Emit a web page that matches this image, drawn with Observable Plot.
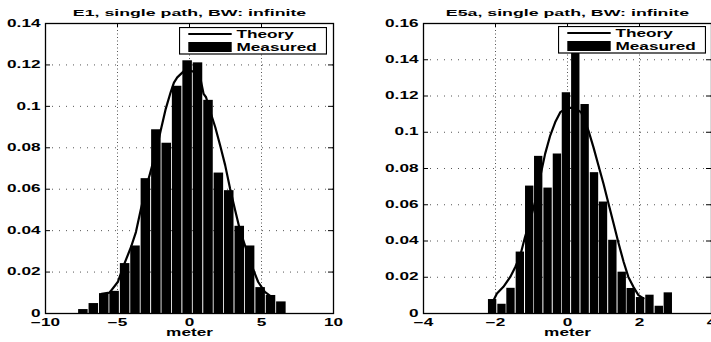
<!DOCTYPE html>
<html>
<head>
<meta charset="utf-8">
<script src="https://cdn.jsdelivr.net/npm/d3@7"></script>
<script src="https://cdn.jsdelivr.net/npm/@observablehq/plot@0.6"></script>
<style>
  html, body { margin: 0; padding: 0; background: #fff; overflow: hidden; }
  #wrap { position: relative; width: 711px; height: 342px; overflow: hidden; background: #fff; }
  .pane { position: absolute; top: 0; width: 355px; height: 342px; }
  .pane svg { max-width: none !important; }
  .leg { position: absolute; font-family: "Liberation Sans", Arial, sans-serif; font-weight: bold; font-size: 10px; }
</style>
</head>
<body>
<div id="wrap">
  <div id="left" class="pane" style="left:0px"></div>
  <div id="right" class="pane" style="left:378.3px"></div>
</div>
<script>
// ---------- Left panel: E1 ----------
const leftTitle = "E1, single path, BW: infinite";
const leftXTicks = [-10, -5, 0, 5, 10];
const leftYTicks = [0, 0.02, 0.04, 0.06, 0.08, 0.1, 0.12, 0.14];
const leftBinWidth = 0.7235;
const leftCenters = [-7.37, -6.645, -5.92, -5.20, -4.47, -3.75, -3.03, -2.30, -1.58, -0.86,
                     -0.13, 0.59, 1.32, 2.04, 2.76, 3.49, 4.21, 4.94, 5.66, 6.38];
const leftMeasured = [0.0019, 0.0048, 0.0096, 0.0107, 0.0241, 0.0326, 0.0651, 0.0887, 0.0822, 0.1097,
                      0.1220, 0.1210, 0.1029, 0.0678, 0.0593, 0.0421, 0.0326, 0.0125, 0.0087, 0.0056];
const leftTheoryX = [-6.1, -5.55, -4.98, -4.52, -4.06, -3.72, -3.37, -3.03, -2.68, -2.34, -2.0, -1.65,
                     -1.31, -1.08, -0.85, -0.39, 0.0, 0.18, 0.45, 0.76, 0.98, 1.15, 1.45, 1.79, 2.13,
                     2.48, 2.82, 3.17, 3.51, 3.85, 4.31, 4.77, 5.23, 5.6];
const leftTheoryY = [0.0095, 0.0101, 0.0152, 0.0241, 0.0321, 0.0393, 0.0506, 0.0602, 0.0691, 0.0779, 0.0883, 0.0988,
                     0.1068, 0.1115, 0.1140, 0.1170, 0.1176, 0.1170, 0.1160, 0.1133, 0.1060, 0.1044, 0.0972, 0.0899, 0.0811,
                     0.0715, 0.0602, 0.0498, 0.0401, 0.0329, 0.0233, 0.0152, 0.0104, 0.0085];

// ---------- Right panel: E5a ----------
const rightTitle = "E5a, single path, BW: infinite";
const rightXTicks = [-4, -2, 0, 2, 4];
const rightYTicks = [0, 0.02, 0.04, 0.06, 0.08, 0.1, 0.12, 0.14, 0.16];
const rightBinWidth = 0.257;
const rightCenters = [-2.08, -1.82, -1.57, -1.31, -1.05, -0.80, -0.54, -0.28, -0.03, 0.23,
                      0.49, 0.75, 1.00, 1.26, 1.52, 1.77, 2.03, 2.29, 2.55, 2.80];
const rightMeasured = [0.0077, 0.0051, 0.0139, 0.0339, 0.0703, 0.0867, 0.0692, 0.0880, 0.1218, 0.1500,
                       0.1153, 0.0777, 0.0615, 0.0404, 0.0228, 0.0138, 0.0088, 0.0101, 0.0040, 0.0114];
const rightTheoryX = [-2.05, -1.96, -1.78, -1.59, -1.45, -1.31, -1.18, -1.04, -0.90, -0.76, -0.62, -0.48,
                      -0.34, -0.20, 0.0, 0.2, 0.38, 0.58, 0.72, 0.86, 1.0, 1.14, 1.28, 1.42, 1.56, 1.69,
                      1.83, 1.97, 2.11];
const rightTheoryY = [0.0075, 0.0110, 0.0147, 0.0202, 0.0257, 0.0321, 0.0422, 0.0514, 0.0615, 0.0753, 0.0882, 0.0982,
                      0.1056, 0.1111, 0.1135, 0.1135, 0.1110, 0.1010, 0.0918, 0.0817, 0.0716, 0.0606, 0.0496, 0.0386,
                      0.0284, 0.0202, 0.0147, 0.0101, 0.0083];

const legendLabels = ["Theory", "Measured"];

const W = 355, H = 342, ML = 45, MR = 22, MT = 23, MB = 29;
const FW = W - ML - MR, FH = H - MT - MB;
const SX = 1.72;       // horizontal stretch of lettering in the reference
const SXT = 1.87;      // title stretch
const fmt = d => (d < 0 ? "\u2212" + (-d) : String(d));

function chart({title, xTicks, yTicks, binWidth, centers, measured, thX, thY}) {
  const bars = centers.map((c, i) => ({x1: c - binWidth / 2, x2: c + binWidth / 2, y: measured[i]}));
  const theory = thX.map((x, i) => ({x, y: thY[i]}));
  const svg = Plot.plot({
    width: W, height: H,
    marginLeft: ML, marginRight: MR, marginTop: MT, marginBottom: MB,
    style: {fontFamily: "Liberation Sans, Arial, sans-serif", fontSize: "10px", fontWeight: "bold",
            background: "transparent", overflow: "visible", color: "black", maxWidth: "none"},
    x: {domain: [xTicks[0], xTicks[xTicks.length - 1]]},
    y: {domain: [yTicks[0], yTicks[yTicks.length - 1]]},
    marks: [
      Plot.gridX(xTicks.slice(1, -1), {stroke: "#555", strokeOpacity: 1, strokeDasharray: "1,2.5"}),
      Plot.gridY(yTicks.slice(1, -1), {stroke: "#555", strokeOpacity: 1, strokeDasharray: "1,6"}),
      Plot.rectY(bars, {x1: "x1", x2: "x2", y: "y", fill: "black", insetLeft: 0.45, insetRight: 0.45}),
      Plot.line(theory, {x: "x", y: "y", stroke: "black", strokeWidth: 2.2}),
      Plot.ruleX(xTicks, {insetTop: FH - 4, stroke: "black"}),
      Plot.ruleX(xTicks, {insetBottom: FH - 4, stroke: "black"}),
      Plot.ruleY(yTicks, {insetRight: FW - 5, stroke: "black"}),
      Plot.ruleY(yTicks, {insetLeft: FW - 5, stroke: "black"}),
      Plot.frame({stroke: "black", strokeWidth: 1.3}),
      Plot.axisX(xTicks, {tickSize: 0, tickPadding: 5.5, tickFormat: fmt, label: null, fill: "black"}),
      Plot.axisY(yTicks, {tickSize: 0, tickPadding: 5, tickFormat: fmt, label: null, fill: "black"}),
      Plot.text([title], {text: d => d, frameAnchor: "top", lineAnchor: "middle", dy: -11, fill: "black",
                          fontSize: 9.5, fontWeight: "bold", className: "ttl"}),
      Plot.text(["meter"], {text: d => d, frameAnchor: "bottom", lineAnchor: "middle", dy: 19.5, fill: "black",
                            fontWeight: "bold"})
    ]
  });
  svg.querySelectorAll("text").forEach(t => {
    const isTitle = t.closest(".ttl") !== null;
    const tr = t.getAttribute("transform") || "";
    t.setAttribute("transform", tr + ` scale(${isTitle ? SXT : SX},1)`);
  });
  return svg;
}

function legend(left, top) {
  const s = d3.create("svg").attr("class", "leg").attr("width", 148).attr("height", 28)
    .style("left", left + "px").style("top", top + "px");
  s.append("rect").attr("x", 0.5).attr("y", 0.5).attr("width", 147).attr("height", 26.5)
    .attr("fill", "white").attr("stroke", "black").attr("stroke-width", 1.2);
  s.append("line").attr("x1", 9.3).attr("x2", 52.7).attr("y1", 7).attr("y2", 7)
    .attr("stroke", "black").attr("stroke-width", 2.2);
  s.append("rect").attr("x", 9.3).attr("y", 15).attr("width", 43.4).attr("height", 10).attr("fill", "black");
  s.append("text").attr("transform", `translate(57.5,10.8) scale(${SX},1)`).text(legendLabels[0]);
  s.append("text").attr("transform", `translate(57.5,23.5) scale(${SX},1)`).text(legendLabels[1]);
  return s.node();
}

document.getElementById("left").append(chart({
  title: leftTitle, xTicks: leftXTicks, yTicks: leftYTicks, binWidth: leftBinWidth,
  centers: leftCenters, measured: leftMeasured, thX: leftTheoryX, thY: leftTheoryY
}));
document.getElementById("right").append(chart({
  title: rightTitle, xTicks: rightXTicks, yTicks: rightYTicks, binWidth: rightBinWidth,
  centers: rightCenters, measured: rightMeasured, thX: rightTheoryX, thY: rightTheoryY
}));
const wrap = document.getElementById("wrap");
wrap.append(legend(179, 26.5));
wrap.append(legend(557.7, 26));
</script>
</body>
</html>
